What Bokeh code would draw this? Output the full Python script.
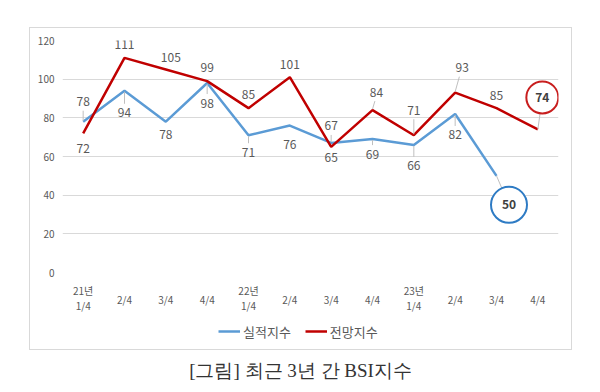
from bokeh.plotting import figure
from bokeh.models import (Range1d, FixedTicker, Legend, LegendItem, LinearAxis)
from bokeh.layouts import column
from bokeh.embed import file_html
from bokeh.resources import INLINE
from bokeh.core.properties import value
import numpy as np

# ---------------- data ----------------
tick_labels = ["21년\n1/4", "2/4", "3/4", "4/4", "22년\n1/4", "2/4", "3/4", "4/4",
               "23년\n1/4", "2/4", "3/4", "4/4"]
actual = [78, 94, 78, 98, 71, 76, 67, 69, 66, 82, 50, None]      # 실적지수
outlook = [72, 111, 105, 99, 85, 101, 65, 84, 71, 93, 85, 74]     # 전망지수
series_names = ["실적지수", "전망지수"]
caption = "[그림] 최근 3년 간 BSI지수"

# ---------------- styles ----------------
BLUE = "#5B9BD5"
RED = "#C00000"
TXT = "#595959"
FONT = "Noto Sans CJK KR"
PX_X = 496 / 12.0
PX_Y = 232 / 120.0

# label offsets in screen px (x, y); y positive = downward
actual_lbl_dx = [0, 0, 0, 0, 0, 0, 0, 0, 0, 0]
actual_lbl_dy = [-20, 22, 13, 20, 17, 19, -17, 15, 21, 21]
outlook_lbl_dx = [0, 0, 5, 0, 0, 0, 0, 4, 0, 7, 0]
outlook_lbl_dy = [15, -13, -12, -14, -14, -13, 11, -18, -25, -25, -13]
actual_leaders = [0, 1, 3, 4, 6, 7, 8, 9]
outlook_leaders = [7, 8, 9]

n = len(tick_labels)
xs = list(range(n))
two_line = [i for i, t in enumerate(tick_labels) if "\n" in t]
one_line = [i for i, t in enumerate(tick_labels) if "\n" not in t]

p = figure(frame_width=496, frame_height=232, output_backend="svg",
           toolbar_location=None,
           x_range=Range1d(-0.5, n - 0.5), y_range=Range1d(0, 120),
           x_axis_location=None,
           min_border_left=32, min_border_right=13, min_border_top=12,
           min_border_bottom=42, margin=0)
p.outline_line_color = None
p.background_fill_color = "white"
p.border_fill_color = "white"
p.xgrid.grid_line_color = None
p.ygrid.grid_line_color = "#D9D9D9"
p.ygrid.grid_line_width = 1

p.yaxis.ticker = FixedTicker(ticks=[0, 20, 40, 60, 80, 100, 120])
p.yaxis.axis_line_color = None
p.yaxis.major_tick_line_color = None
p.yaxis.minor_tick_line_color = None
p.yaxis.major_tick_out = 0
p.yaxis.major_label_text_font = FONT
p.yaxis.major_label_text_font_size = "10px"
p.yaxis.major_label_text_color = TXT
p.yaxis.major_label_standoff = 8


def make_xaxis(ticks, standoff):
    ax = LinearAxis(ticker=FixedTicker(ticks=ticks),
                    major_label_overrides={i: tick_labels[i] for i in ticks},
                    axis_line_color=None, major_tick_line_color=None,
                    minor_tick_line_color=None, major_tick_out=0, major_tick_in=0,
                    minor_tick_out=0, minor_tick_in=0,
                    major_label_text_font=FONT, major_label_text_font_size="10px",
                    major_label_text_line_height=1.05,
                    major_label_text_color=TXT, major_label_standoff=standoff)
    p.add_layout(ax, "below")
    return ax


make_xaxis(two_line, 10)
make_xaxis(one_line, -25)

a_vals = [np.nan if v is None else v for v in actual]
r_blue = p.line(xs, a_vals, line_color=BLUE, line_width=2.5)
r_red = p.line(xs, outlook, line_color=RED, line_width=2.5)


# leader lines for data labels
def leaders(vals, idxs, dxs, dys):
    x0, y0, x1, y1 = [], [], [], []
    for i in idxs:
        sgn = 1 if dys[i] > 0 else -1
        x0.append(i)
        y0.append(vals[i] - sgn * 1.0 / PX_Y)
        x1.append(i + dxs[i] * 0.6 / PX_X)
        y1.append(vals[i] - (dys[i] - sgn * 9) / PX_Y)
    return x0, y0, x1, y1


for vals, idxs, dxs, dys in [(actual, actual_leaders, actual_lbl_dx, actual_lbl_dy),
                             (outlook, outlook_leaders, outlook_lbl_dx, outlook_lbl_dy)]:
    x0, y0, x1, y1 = leaders(vals, idxs, dxs, dys)
    p.segment(x0, y0, x1, y1, line_color="#BFBFBF", line_width=1)

# data labels
m = len(actual_lbl_dy)
p.text(xs[:m], actual[:m], text=[str(v) for v in actual[:m]],
       x_offset=actual_lbl_dx, y_offset=actual_lbl_dy,
       text_align="center", text_baseline="middle", text_font=value(FONT),
       text_font_size="12px", text_color=TXT)
k = len(outlook_lbl_dy)
p.text(xs[:k], outlook[:k], text=[str(v) for v in outlook[:k]],
       x_offset=outlook_lbl_dx, y_offset=outlook_lbl_dy,
       text_align="center", text_baseline="middle", text_font=value(FONT),
       text_font_size="12px", text_color=TXT)

# call-out circles for latest values
callouts = [
    (m, actual[m], 12.5, 29, 36, "#2E7BC4"),
    (n - 1, outlook[n - 1], 4.5, -32, 32, "#C81E1E"),
]
for i, v, dxp, dyp, size, col in callouts:
    cx = i + dxp / PX_X
    cy = v - dyp / PX_Y
    p.segment([i], [v], [cx], [cy], line_color="#BFBFBF", line_width=1)
    p.scatter([cx], [cy], marker="circle", size=size, fill_color="white",
              line_color=col, line_width=2)
    p.text([cx], [cy], text=[str(v)], text_align="center", text_baseline="middle",
           text_font=value(FONT), text_font_size="12px", text_font_style="bold",
           text_color="#404040")

# legend strip (inside the chart box)
lg = figure(width=541, height=33, output_backend="svg", toolbar_location=None,
            x_range=Range1d(0, 1), y_range=Range1d(0, 1),
            min_border=0, margin=0)
lg.axis.visible = False
lg.grid.visible = False
lg.outline_line_color = None
k_blue = lg.line(x=[np.nan], y=[np.nan], line_color=BLUE, line_width=2.5)
k_red = lg.line(x=[np.nan], y=[np.nan], line_color=RED, line_width=2.5)
legend = Legend(items=[LegendItem(label=series_names[0], renderers=[k_blue]),
                       LegendItem(label=series_names[1], renderers=[k_red])],
                location=(156, 8), orientation="horizontal",
                border_line_color=None, background_fill_alpha=0,
                padding=0, margin=0, spacing=14, glyph_width=22, glyph_height=14,
                label_standoff=3, label_text_font=FONT, label_height=20,
                label_text_font_size="13px", label_text_color=TXT)
lg.add_layout(legend, "center")

box = column(p, lg, spacing=0, margin=(27, 0, 0, 29),
             styles={"border": "1px solid #D9D9D9"})

# caption strip
c = figure(width=592, height=40, output_backend="svg", toolbar_location=None,
           x_range=Range1d(0, 592), y_range=Range1d(0, 40),
           min_border=0, margin=0)
c.axis.visible = False
c.grid.visible = False
c.outline_line_color = None
c.text([300], [20], text=[caption], text_align="center", text_baseline="middle",
       text_font=value("Liberation Serif"), text_font_size="19px",
       text_color="#333333")

layout = column(box, c, spacing=0)
open("out.html", "w").write(file_html(layout, INLINE))
